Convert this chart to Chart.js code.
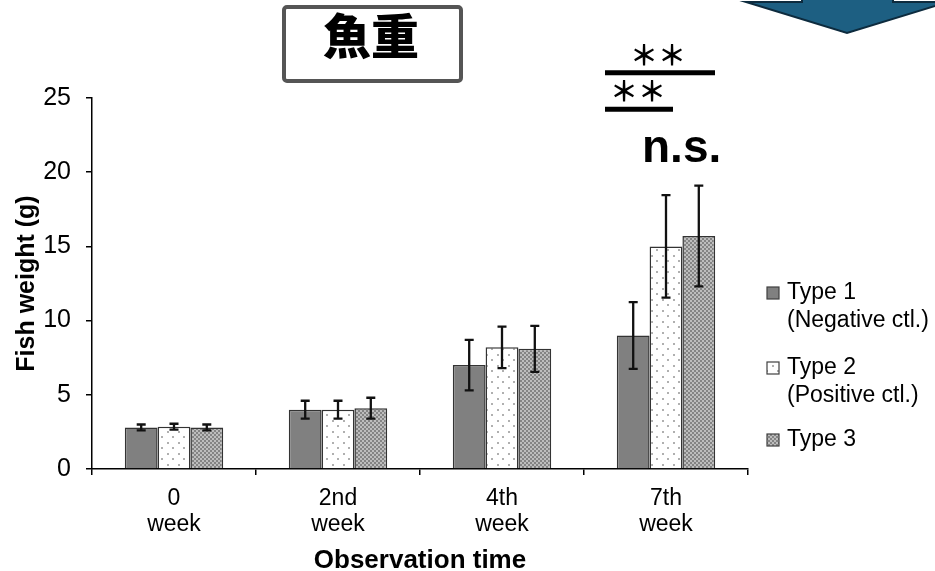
<!DOCTYPE html>
<html>
<head>
<meta charset="utf-8">
<script src="https://cdn.jsdelivr.net/npm/chart.js@4/dist/chart.umd.min.js"></script>
<style>
  html, body { margin: 0; padding: 0; background: #ffffff; }
  #wrap { width: 935px; height: 571px; position: relative; }
</style>
</head>
<body>
<div id="wrap"><canvas id="c" width="935" height="571"></canvas></div>
<script>
// Observation points (two-line tick labels)
const categories = [['0', 'week'], ['2nd', 'week'], ['4th', 'week'], ['7th', 'week']];

// Mean fish weight (g) and standard deviation per group
const type1Mean = [2.8, 4.0, 7.0, 9.0];
const type1Err  = [0.2, 0.6, 1.7, 2.25];
const type2Mean = [2.85, 4.0, 8.2, 15.0];
const type2Err  = [0.2, 0.6, 1.4, 3.45];
const type3Mean = [2.8, 4.1, 8.1, 15.7];
const type3Err  = [0.2, 0.7, 1.55, 3.4];

const seriesNames = [['Type 1', '(Negative ctl.)'], ['Type 2', '(Positive ctl.)'], ['Type 3']];
const yTicks = [0, 5, 10, 15, 20, 25];

const FONT = "'Liberation Sans', Arial, sans-serif";
const CJK = "'Noto Sans CJK JP', 'Noto Sans CJK SC', sans-serif";

// Fill patterns: dotted white and fine grey checker
function dotPattern() {
  const p = document.createElement('canvas');
  p.width = 11; p.height = 11;
  const g = p.getContext('2d');
  g.fillStyle = '#ffffff'; g.fillRect(0, 0, 11, 11);
  g.fillStyle = '#b0b0b0';
  g.fillRect(2, 2, 2, 2);
  g.fillRect(7, 7, 2, 2);
  return g.createPattern(p, 'repeat');
}
function checkPattern() {
  const p = document.createElement('canvas');
  p.width = 4; p.height = 4;
  const g = p.getContext('2d');
  g.fillStyle = '#bdbdbd'; g.fillRect(0, 0, 4, 4);
  g.fillStyle = '#848484';
  g.fillRect(0, 0, 2, 2);
  g.fillRect(2, 2, 2, 2);
  return g.createPattern(p, 'repeat');
}
const fills = ['#808080', dotPattern(), checkPattern()];
const errs = [type1Err, type2Err, type3Err];

// Error bars drawn from each bar's position on the scales
const errorBars = {
  id: 'errorBars',
  afterDatasetsDraw(chart) {
    const ctx = chart.ctx;
    const y = chart.scales.y;
    ctx.save();
    ctx.strokeStyle = '#111111';
    ctx.lineWidth = 2.3;
    chart.data.datasets.forEach((ds, di) => {
      const meta = chart.getDatasetMeta(di);
      meta.data.forEach((bar, i) => {
        const v = ds.data[i], e = errs[di][i];
        const x = bar.x;
        const top = y.getPixelForValue(v + e);
        const bot = y.getPixelForValue(v - e);
        ctx.beginPath();
        ctx.moveTo(x, top); ctx.lineTo(x, bot);
        ctx.moveTo(x - 4.5, top); ctx.lineTo(x + 4.5, top);
        ctx.moveTo(x - 4.5, bot); ctx.lineTo(x + 4.5, bot);
        ctx.stroke();
      });
    });
    ctx.restore();
  }
};

// Legend, title box, significance marks and arrow
const decorations = {
  id: 'decorations',
  afterDraw(chart) {
    const ctx = chart.ctx;
    const area = chart.chartArea;
    const xs = chart.scales.x, ys = chart.scales.y;
    ctx.save();

    // legend
    const lx = area.right + 19;
    const rows = [293, 368, 440];
    ctx.font = '23px ' + FONT;
    ctx.textBaseline = 'middle';
    ctx.textAlign = 'left';
    rows.forEach((ry, k) => {
      ctx.fillStyle = fills[k];
      ctx.fillRect(lx, ry - 6, 12, 12);
      ctx.strokeStyle = '#404040';
      ctx.lineWidth = 1.2;
      ctx.strokeRect(lx, ry - 6, 12, 12);
      ctx.fillStyle = '#000000';
      seriesNames[k].forEach((line, j) => ctx.fillText(line, lx + 20, ry + j * 28));
    });

    // title box
    ctx.strokeStyle = '#555555';
    ctx.lineWidth = 4;
    ctx.fillStyle = '#ffffff';
    ctx.beginPath();
    ctx.roundRect(284, 7, 177, 74, 3);
    ctx.fill(); ctx.stroke();
    ctx.fillStyle = '#000000';
    ctx.font = '900 48px ' + CJK;
    ctx.textAlign = 'center';
    ctx.textBaseline = 'middle';
    ctx.fillText('魚重', 371, 36);

    // significance brackets above the 7th week group
    const cx = xs.getPixelForValue(3);
    ctx.lineWidth = 5;
    ctx.strokeStyle = '#000000';
    const yU = ys.getPixelForValue(26.7);
    const yL = ys.getPixelForValue(24.25);
    ctx.beginPath();
    ctx.moveTo(cx - 61, yU); ctx.lineTo(cx + 49, yU);
    ctx.moveTo(cx - 61, yL); ctx.lineTo(cx + 7, yL);
    ctx.stroke();
    ctx.font = 'bold 28px ' + CJK;
    ctx.textBaseline = 'alphabetic';
    ctx.fillText('＊＊', cx - 8, yU - 7);
    ctx.fillText('＊＊', cx - 28, yL - 7);
    ctx.font = 'bold 46px ' + FONT;
    ctx.textAlign = 'left';
    ctx.fillText('n.s.', cx - 24, ys.getPixelForValue(20.7));

    // arrow at the top right
    ctx.fillStyle = '#1d5f82';
    ctx.strokeStyle = '#0d2b3e';
    ctx.lineWidth = 2;
    ctx.beginPath();
    ctx.moveTo(802, -10); ctx.lineTo(893, -10); ctx.lineTo(893, 2);
    ctx.lineTo(948, 2); ctx.lineTo(847, 33); ctx.lineTo(746, 2);
    ctx.lineTo(802, 2); ctx.closePath();
    ctx.fill(); ctx.stroke();

    ctx.restore();
  }
};

const datasets = [type1Mean, type2Mean, type3Mean].map((d, k) => ({
  label: seriesNames[k].join(' '),
  data: d,
  backgroundColor: fills[k],
  borderColor: '#333333',
  borderWidth: 1.5,
  categoryPercentage: 0.6,
  barPercentage: 1.0
}));

new Chart(document.getElementById('c'), {
  type: 'bar',
  data: { labels: categories, datasets },
  options: {
    responsive: false,
    animation: false,
    layout: { padding: { top: 98, right: 187, left: 0, bottom: 0 } },
    plugins: { legend: { display: false }, tooltip: { enabled: false } },
    scales: {
      x: {
        offset: true,
        grid: { display: true, offset: true, drawOnChartArea: false, drawTicks: true, tickLength: 6, color: '#000000', lineWidth: 1.5 },
        border: { display: true, color: '#000000', width: 1.5 },
        ticks: { color: '#000000', font: { family: FONT, size: 23, lineHeight: 1.15 }, padding: 10, maxRotation: 0 },
        title: { display: true, text: 'Observation time', color: '#000000', font: { family: FONT, size: 26, weight: 'bold', lineHeight: 1 }, padding: { top: 0, bottom: -3 } },
        afterFit(s) { s.height = 102; }
      },
      y: {
        min: 0, max: 25,
        afterBuildTicks(s) { s.ticks = yTicks.map(v => ({ value: v })); },
        grid: { display: true, drawOnChartArea: false, drawTicks: true, tickLength: 6, color: '#000000', lineWidth: 1.5 },
        border: { display: true, color: '#000000', width: 1.5 },
        ticks: { color: '#000000', font: { family: FONT, size: 25 }, padding: 15 },
        title: { display: true, text: 'Fish weight (g)', color: '#000000', font: { family: FONT, size: 25, weight: 'bold', lineHeight: 1.2 }, padding: { top: 12, bottom: 0 } },
        afterFit(s) { s.width = 92; }
      }
    }
  },
  plugins: [errorBars, decorations]
});
</script>
</body>
</html>
